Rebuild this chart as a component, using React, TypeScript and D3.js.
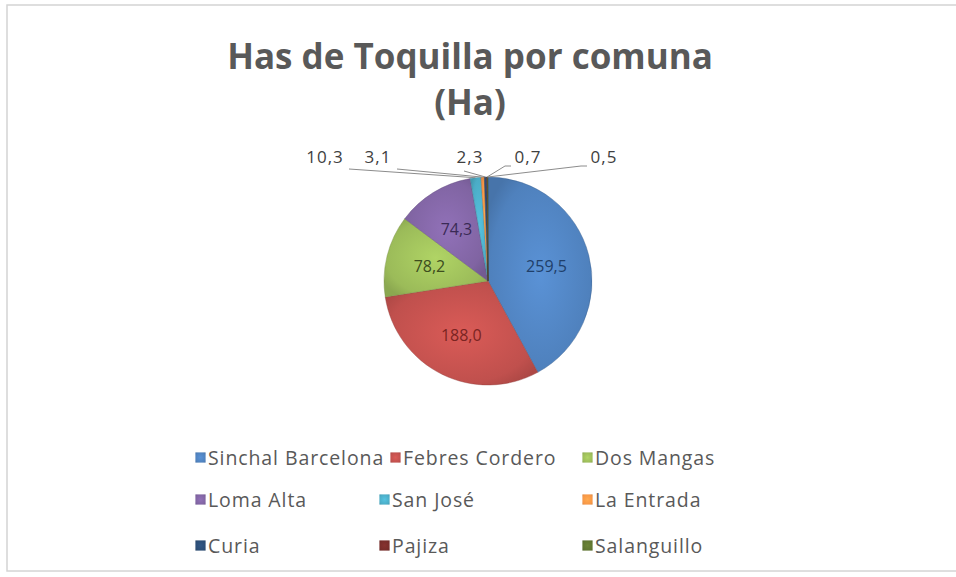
import React, { useEffect } from "react";
import * as d3 from "d3";

const categories = ["Sinchal Barcelona", "Febres Cordero", "Dos Mangas", "Loma Alta", "San José", "La Entrada", "Curia", "Pajiza", "Salanguillo"];
const values = [259.5, 188.0, 78.2, 74.3, 10.3, 3.1, 2.3, 0.7, 0.5];
const labels = ["259,5", "188,0", "78,2", "74,3", "10,3", "3,1", "2,3", "0,7", "0,5"];
const colors = ["#4F81BD", "#C0504D", "#9BBB59", "#8064A2", "#4BACC6", "#F79646", "#2C4D75", "#772C2A", "#5F7530"];
const labelInk = ["#1f3f6a", "#7a2422", "#3d4d1e", "#3a2a55", "#404040", "#404040", "#404040", "#404040", "#404040"];
// outside label horizontal layout offsets (from pie centre) for the small slices
const outsideOffsets = [-163, -110, -18, 40, 116];

const W = 956, H = 577;
const cx = 488, cy = 281, R = 104;

export default function App() {
  useEffect(() => { document.body.style.margin = "0"; }, []);
  const pie = d3.pie<number>().sort(null).value((d) => d)(values);
  const arc = d3.arc<d3.PieArcDatum<number>>().innerRadius(0).outerRadius(R);
  const inner = d3.arc<d3.PieArcDatum<number>>().innerRadius(R * 0.58).outerRadius(R * 0.58);
  const font = "'Open Sans', 'DejaVu Sans', sans-serif";
  const legendCols = [200, 384, 587];
  const legendRows = [458, 500, 546];
  return (
    <svg width={W} height={H} style={{ display: "block", background: "#fff" }}>
      <defs>
        {colors.map((c, i) => (
          <radialGradient key={i} id={`g${i}`} cx="50%" cy="50%" r="60%">
            <stop offset="0%" stopColor={d3.color(c)!.brighter(0.35).formatHex()} />
            <stop offset="80%" stopColor={c} />
            <stop offset="100%" stopColor={d3.color(c)!.darker(0.3).formatHex()} />
          </radialGradient>
        ))}
      </defs>
      <rect x={7} y={5} width={W + 10} height={566} fill="#fff" stroke="#d4d4d4" strokeWidth={1.5} />
      <text x={470} y={69} textAnchor="middle" fontFamily={font} fontWeight="bold" fontSize={35} fill="#595959">
        Has de Toquilla por comuna
      </text>
      <text x={470} y={115} textAnchor="middle" fontFamily={font} fontWeight="bold" fontSize={35} fill="#595959">
        (Ha)
      </text>
      <g transform={`translate(${cx},${cy})`}>
        {pie.map((p, i) => (
          <path key={i} d={arc(p)!} fill={`url(#g${i})`} stroke={d3.color(colors[i])!.darker(0.8).formatHex()} strokeOpacity={0.5} strokeWidth={0.8} />
        ))}
        {pie.slice(0, 4).map((p, i) => {
          const [x, y] = inner.centroid(p);
          return (
            <text key={i} x={x} y={y} dy="0.35em" textAnchor="middle" fontFamily={font} fontSize={16} fill={labelInk[i]}>
              {labels[i]}
            </text>
          );
        })}
        {pie.slice(4).map((p, j) => {
          const i = j + 4;
          const a = (p.startAngle + p.endAngle) / 2;
          const px = R * Math.sin(a), py = -R * Math.cos(a);
          const lx = outsideOffsets[j];
          const ly = 157 - cy;
          const hw = labels[i].length * 5;
          let pts: [number, number][];
          if (lx < -40) pts = [[px, py], [lx + hw + 4, ly + 12]];
          else if (lx > 20) pts = [[px, py], [lx - hw - 8, ly + 9], [lx - hw - 2, ly + 9]];
          else pts = [[px, py], [lx - 6, ly + 14]];
          return (
            <g key={i}>
              <path d={d3.line()(pts)!} fill="none" stroke="#8c8c8c" strokeWidth={1} />
              <text x={lx} y={ly} dy="0.35em" textAnchor="middle" fontFamily={font} fontSize={17} letterSpacing={1} fill="#404040">
                {labels[i]}
              </text>
            </g>
          );
        })}
      </g>
      {categories.map((c, i) => {
        const col = i % 3, row = Math.floor(i / 3);
        const x = row === 0 && col === 1 ? 395 : legendCols[col];
        const y = legendRows[row];
        return (
          <g key={i}>
            <rect x={x - 5} y={y - 6} width={11} height={11} fill={`url(#g${i})`} stroke="#ffffff" strokeWidth={0.8} />
            <text x={x + 8} y={y} dy="0.35em" fontFamily={font} fontSize={19.5} letterSpacing={0.9} fill="#595959">
              {c}
            </text>
          </g>
        );
      })}
    </svg>
  );
}
